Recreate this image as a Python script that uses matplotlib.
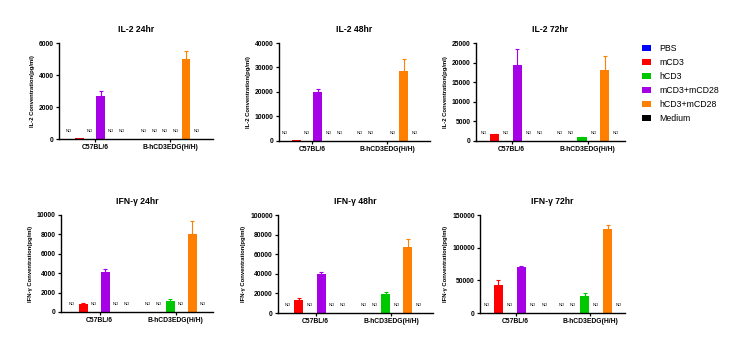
import numpy as np
import matplotlib
matplotlib.use("Agg")
import matplotlib.pyplot as plt
from matplotlib.patches import Patch

plt.rcParams['font.family'] = ['Liberation Sans', 'DejaVu Sans']

treatments = ["PBS", "mCD3", "hCD3", "mCD3+mCD28", "hCD3+mCD28", "Medium"]
colors = ["#0000FF", "#FF0000", "#00C800", "#A600E6", "#FF8000", "#000000"]
groups = ["C57BL/6", "B-hCD3EDG(H/H)"]

titles = ["IL-2 24hr", "IL-2 48hr", "IL-2 72hr",
          "IFN-γ 24hr", "IFN-γ 48hr", "IFN-γ 72hr"]
ylabels = ["IL-2 Conventration(pg/ml)"] * 3 + ["IFN-γ Conventration(pg/ml)"] * 3

# None = ND (not detected); each entry: [C57BL/6 values, B-hCD3EDG values]
il2_24 = [[None, 50, None, 2700, None, None], [None, None, None, None, 5000, None]]
il2_24_err = [[0, 0, 0, 270, 0, 0], [0, 0, 0, 0, 500, 0]]
il2_48 = [[None, 500, None, 19800, None, None], [None, None, 200, None, 28500, None]]
il2_48_err = [[0, 0, 0, 1400, 0, 0], [0, 0, 0, 0, 5000, 0]]
il2_72 = [[None, 1700, None, 19300, None, None], [None, None, 900, None, 18200, None]]
il2_72_err = [[0, 100, 0, 4200, 0, 0], [0, 0, 100, 0, 3600, 0]]
ifn_24 = [[None, 850, None, 4100, None, None], [None, None, 1100, None, 8000, None]]
ifn_24_err = [[0, 100, 0, 300, 0, 0], [0, 0, 200, 0, 1400, 0]]
ifn_48 = [[None, 13000, None, 40000, None, None], [None, None, 19500, None, 67000, None]]
ifn_48_err = [[0, 2000, 0, 1500, 0, 0], [0, 0, 2000, 0, 9000, 0]]
ifn_72 = [[None, 43000, None, 70000, None, None], [None, None, 26000, None, 128000, None]]
ifn_72_err = [[0, 8000, 0, 2500, 0, 0], [0, 0, 4500, 0, 6000, 0]]

values = [il2_24, il2_48, il2_72, ifn_24, ifn_48, ifn_72]
errors = [il2_24_err, il2_48_err, il2_72_err, ifn_24_err, ifn_48_err, ifn_72_err]
ymax = [6000, 40000, 25000, 10000, 100000, 150000]
ystep = [2000, 10000, 5000, 2000, 20000, 50000]

# axes boxes in pixels: left, right, top, bottom ; group-2 start ; xlim
W, H = 733, 342
boxes = [(59, 213, 43, 139), (279, 430, 43, 141), (476, 625, 43, 141),
         (61, 213, 215, 312), (278, 433, 215, 313), (480, 625, 215, 313)]
starts = [7.1, 6.8, 6.75, 6.9, 6.85, 6.5]
xlims = [(-0.95, 13.67), (-0.55, 13.2), (-0.65, 12.55),
         (-1.0, 12.8), (-0.9, 13.15), (-0.6, 12.0)]

fig = plt.figure(figsize=(7.33, 3.42), dpi=100)

for i in range(6):
    l, r, t, b = boxes[i]
    ax = fig.add_axes([l / W, 1 - b / H, (r - l) / W, (b - t) / H])
    offs = [0, starts[i]]
    for g in range(2):
        for k in range(6):
            x = offs[g] + k
            v = values[i][g][k]
            if v is None:
                ax.annotate("ND", xy=(x, 0), xytext=(0, 4.5), textcoords="offset points",
                            ha="center", va="bottom", fontsize=3)
                continue
            ax.bar(x, v, width=0.82, color=colors[k], zorder=2)
            e = errors[i][g][k]
            if e > 0:
                ax.errorbar(x, v, yerr=[[0], [e]], color=colors[k], elinewidth=0.8,
                            capsize=1.6, capthick=0.8, zorder=1)
    ax.set_xlim(*xlims[i])
    ax.set_ylim(0, ymax[i])
    ax.set_yticks(np.arange(0, ymax[i] + 1, ystep[i]))
    ax.set_xticks([2.5, offs[1] + 2.5])
    ax.set_xticklabels(groups, fontsize=4.9, fontweight="bold")
    for lab in ax.get_yticklabels():
        lab.set_fontsize(4.9)
        lab.set_fontweight("bold")
    ax.tick_params(length=2.2, width=0.9, pad=1.5)
    ax.spines["top"].set_visible(False)
    ax.spines["right"].set_visible(False)
    ax.spines["left"].set_linewidth(1.0)
    ax.spines["bottom"].set_linewidth(1.0)
    ax.set_title(titles[i], fontsize=6.2, fontweight="bold", pad=8)
    ax.set_ylabel(ylabels[i], fontsize=4.2, fontweight="bold", labelpad=3)

handles = [Patch(facecolor=c, edgecolor="none") for c in colors]
fig.legend(handles, treatments, loc="upper left", bbox_to_anchor=(642 / W, 1 - 44 / H),
           frameon=False, fontsize=6.3, handlelength=1.06, handleheight=0.6,
           handletextpad=0.9, labelspacing=0.57, borderpad=0, borderaxespad=0)

fig.savefig("out.png", dpi=100)
